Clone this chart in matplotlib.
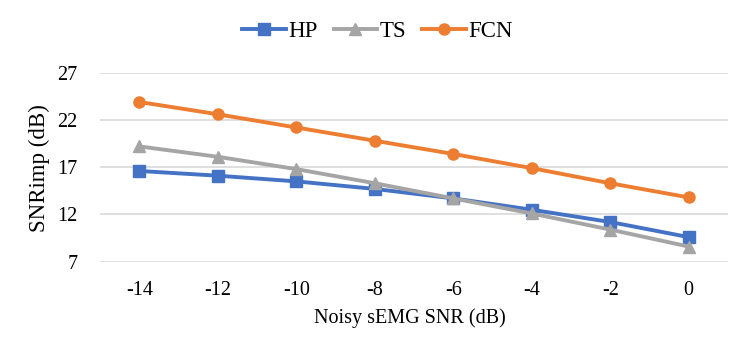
import matplotlib.pyplot as plt

plt.rcParams['font.family'] = ['Liberation Serif', 'DejaVu Serif']

categories = ['-14', '-12', '-10', '-8', '-6', '-4', '-2', '0']
hp = [16.6, 16.1, 15.5, 14.7, 13.7, 12.5, 11.2, 9.6]
ts = [19.2, 18.1, 16.8, 15.3, 13.7, 12.1, 10.4, 8.6]
fcn = [23.9, 22.6, 21.2, 19.8, 18.4, 16.9, 15.3, 13.8]

fig = plt.figure(figsize=(7.52, 3.58), dpi=100)
ax = fig.add_axes([0.133, 0.269, 0.835, 0.528])

x = range(len(categories))
ax.plot(x, hp, color='#4472C4', lw=2.8, marker='s', ms=8, label='HP')
ax.plot(x, ts, color='#A5A5A5', lw=2.8, marker='^', ms=8.5, label='TS')
ax.plot(x, fcn, color='#ED7D31', lw=2.8, marker='o', ms=8, label='FCN')

ax.set_xlim(-0.5, len(categories) - 0.5)
ax.set_ylim(7, 27)
ax.set_yticks([7, 12, 17, 22, 27])
ax.set_xticks(list(x))
ax.set_xticklabels(categories)
ax.grid(axis='y', color='#D9D9D9', lw=1.2)
ax.set_axisbelow(True)
for s in ax.spines.values():
    s.set_visible(False)
ax.tick_params(length=0, labelsize=14.5, pad=16)
ax.tick_params(axis='x', pad=14)

fig.text(0.053, 0.531, 'SNRimp (dB)', rotation=90, ha='center', va='center', fontsize=16.5)
fig.text(0.545, 0.112, 'Noisy sEMG SNR (dB)', ha='center', va='center', fontsize=14.5)

fig.legend(loc='center', bbox_to_anchor=(0.502, 0.913), ncol=3, frameon=False,
           fontsize=16.5, handlelength=1.9, handletextpad=0.1, columnspacing=0.7)

fig.savefig('out.png', dpi=100)
